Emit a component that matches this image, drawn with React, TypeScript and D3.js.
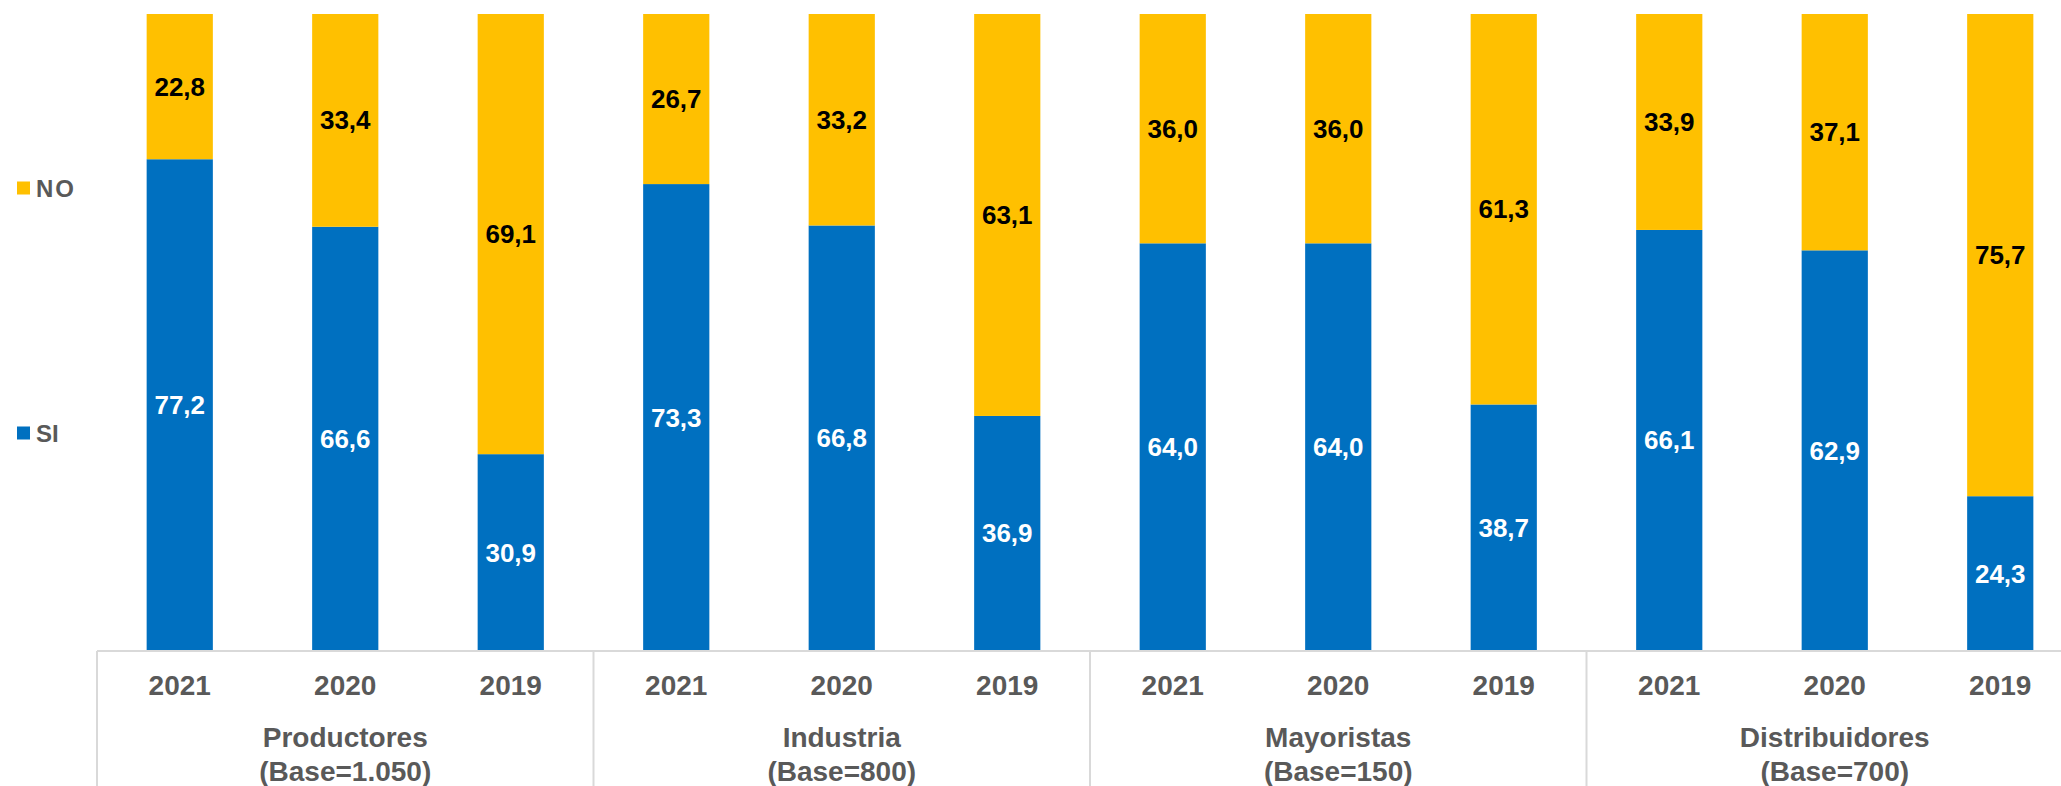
import React, { useRef, useEffect } from 'react';
import * as d3 from 'd3';

const groups = ['Productores', 'Industria', 'Mayoristas', 'Distribuidores'];
const bases = ['(Base=1.050)', '(Base=800)', '(Base=150)', '(Base=700)'];
const years = ['2021', '2020', '2019'];
const siValues = [77.2, 66.6, 30.9, 73.3, 66.8, 36.9, 64.0, 64.0, 38.7, 66.1, 62.9, 24.3];
const noValues = [22.8, 33.4, 69.1, 26.7, 33.2, 63.1, 36.0, 36.0, 61.3, 33.9, 37.1, 75.7];
const seriesNames = ['SI', 'NO'];

const App = () => {
    const chart = useRef<SVGSVGElement>(null);

    useEffect(() => {
        const width = 2061;
        const height = 786;
        const font = 'Liberation Sans, Arial, sans-serif';
        const gray = '#595959';
        const colors = { SI: '#0070C0', NO: '#FFC000' };

        const rows = [];
        groups.forEach((g, gi) => {
            years.forEach((y, yi) => {
                const i = gi * years.length + yi;
                rows.push({ key: g + '-' + y, group: g, year: y, SI: siValues[i], NO: noValues[i] });
            });
        });

        const svg = d3.select(chart.current);
        svg.selectAll('*').remove();
        svg.attr('width', width).attr('height', height);

        const xScale = d3.scaleBand()
            .domain(rows.map(d => d.key))
            .range([97, 2083])
            .paddingInner(0.6)
            .paddingOuter(0.3);

        const yScale = d3.scaleLinear()
            .domain([0, 100])
            .range([651, 14]);

        const stacked = d3.stack().keys(seriesNames)(rows);

        const layers = svg.selectAll('.layer')
            .data(stacked)
            .enter()
            .append('g')
            .attr('fill', d => colors[d.key]);

        layers.selectAll('rect')
            .data(d => d)
            .enter()
            .append('rect')
            .attr('x', d => xScale(d.data.key))
            .attr('y', d => yScale(d[1]))
            .attr('width', xScale.bandwidth())
            .attr('height', d => yScale(d[0]) - yScale(d[1]));

        layers.selectAll('text')
            .data(d => d.map(p => ({ p, key: d.key })))
            .enter()
            .append('text')
            .attr('x', d => xScale(d.p.data.key) + xScale.bandwidth() / 2)
            .attr('y', d => (yScale(d.p[0]) + yScale(d.p[1])) / 2)
            .attr('text-anchor', 'middle')
            .attr('dominant-baseline', 'central')
            .style('font-family', font)
            .style('font-weight', 'bold')
            .style('font-size', '26px')
            .style('fill', d => d.key === 'SI' ? '#ffffff' : '#000000')
            .text(d => d.p.data[d.key].toFixed(1).replace('.', ','));

        // category axis with group dividers
        const [x0, x1] = xScale.range();
        svg.append('line')
            .attr('x1', x0).attr('x2', x1)
            .attr('y1', 651).attr('y2', 651)
            .attr('stroke', '#d9d9d9').attr('stroke-width', 2);

        const groupWidth = xScale.step() * years.length;
        groups.forEach((g, gi) => {
            const gx = x0 + gi * groupWidth;
            svg.append('line')
                .attr('x1', gx).attr('x2', gx)
                .attr('y1', 651).attr('y2', height)
                .attr('stroke', '#d9d9d9').attr('stroke-width', 2);
            [g, bases[gi]].forEach((t, li) => {
                svg.append('text')
                    .attr('x', gx + groupWidth / 2)
                    .attr('y', 737 + li * 34)
                    .attr('text-anchor', 'middle')
                    .attr('dominant-baseline', 'central')
                    .style('font-family', font)
                    .style('font-weight', 'bold')
                    .style('font-size', '28px')
                    .style('fill', gray)
                    .text(t);
            });
        });

        svg.selectAll('.year')
            .data(rows)
            .enter()
            .append('text')
            .attr('x', d => xScale(d.key) + xScale.bandwidth() / 2)
            .attr('y', 685)
            .attr('text-anchor', 'middle')
            .attr('dominant-baseline', 'central')
            .style('font-family', font)
            .style('font-weight', 'bold')
            .style('font-size', '28px')
            .style('fill', gray)
            .text(d => d.year);

        // legend
        const legendY = { NO: 188, SI: 433 };
        seriesNames.forEach(s => {
            svg.append('rect')
                .attr('x', 17).attr('y', legendY[s] - 6.5)
                .attr('width', 13).attr('height', 13)
                .attr('fill', colors[s]);
            svg.append('text')
                .attr('x', 36)
                .attr('y', legendY[s])
                .attr('dominant-baseline', 'central')
                .style('font-family', font)
                .style('font-weight', 'bold')
                .style('font-size', '24px')
                .style('letter-spacing', s === 'NO' ? '2px' : '0px')
                .style('fill', gray)
                .text(s);
        });
    }, []);

    return (
        <svg ref={chart} style={{ position: 'absolute', left: 0, top: 0 }}></svg>
    );
};

export default App;
